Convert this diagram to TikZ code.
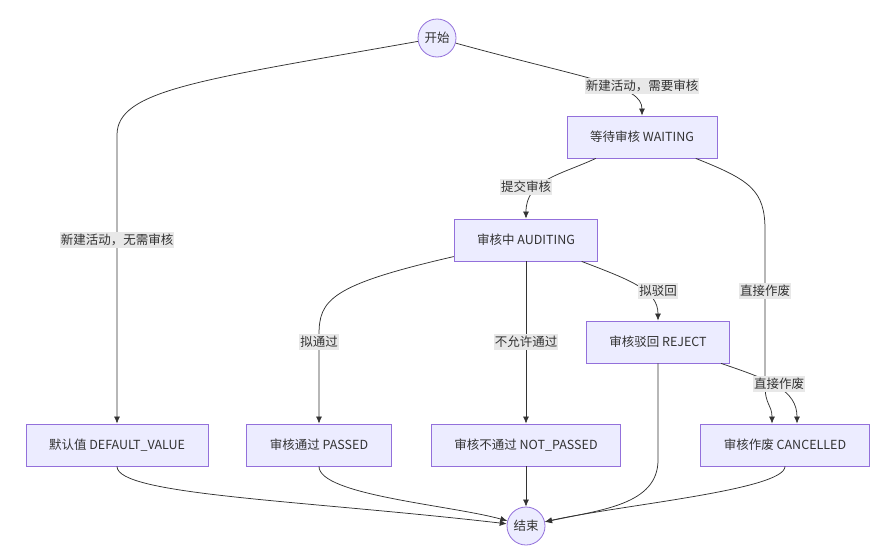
\documentclass[tikz,border=0pt]{standalone}
\usepackage{fontspec}
\setmainfont{Noto Sans CJK SC}
\usetikzlibrary{arrows.meta}
\definecolor{stfill}{HTML}{ECECFF}
\definecolor{stline}{HTML}{9370DB}
\definecolor{txt}{HTML}{333333}
\definecolor{lblbg}{HTML}{E8E8E8}
\begin{document}
\begin{tikzpicture}[x=1pt, y=-1pt,
	every node/.style={font=\fontsize{12.5}{14}\selectfont, text=txt},
	state/.style={draw=stline, fill=stfill, line width=0.8pt, minimum height=42pt, inner xsep=23pt},
	term/.style={circle, draw=stline, fill=stfill, line width=0.8pt, minimum size=38pt, inner sep=0pt},
	lbl/.style={fill=lblbg, inner xsep=1pt, inner ysep=2.5pt},
	edge/.style={draw=txt, line width=0.75pt, -{Latex[length=7pt,width=6pt]}}]
	\useasboundingbox (0,0) rectangle (888,554);
	% states
	\node[term] (start) at (437,38) {开始};
	\node[state] (wait) at (642,137) {等待审核 WAITING};
	\node[state] (audit) at (526,240) {审核中 AUDITING};
	\node[state] (reject) at (658,342) {审核驳回 REJECT};
	\node[state] (default) at (117,445) {默认值 DEFAULT\_VALUE};
	\node[state] (passed) at (319,445) {审核通过 PASSED};
	\node[state] (notpass) at (526,445) {审核不通过 NOT\_PASSED};
	\node[state] (cancel) at (785,445) {审核作废 CANCELLED};
	\node[term] (end) at (526,526) {结束};
	% transitions
	\draw[edge] (start) .. controls (590,80) and (642,85) .. (wait.north);
	\draw[edge] (start) .. controls (200,80) and (117,90) .. (117,135) -- (default.north);
	\draw[edge] (wait) .. controls (560,175) and (526,180) .. (audit.north);
	\draw[edge] (wait) .. controls (750,180) and (765,190) .. (765,230) -- (765,385) .. controls (765,405) and (772,405) .. ([xshift=-13pt]cancel.north);
	\draw[edge] (audit) .. controls (330,285) and (319,300) .. (319,335) -- (passed.north);
	\draw[edge] (audit) -- (notpass);
	\draw[edge] (audit) .. controls (630,280) and (658,290) .. (reject.north);
	\draw[edge] (reject) .. controls (770,380) and (797,390) .. ([xshift=12pt]cancel.north);
	\draw[edge] (reject.south) -- (658,460) .. controls (658,505) and (600,510) .. (end);
	\draw[edge] (default.south) .. controls (117,495) and (300,500) .. (end);
	\draw[edge] (passed.south) .. controls (319,495) and (450,505) .. (end);
	\draw[edge] (notpass) -- (end);
	\draw[edge] (cancel.south) .. controls (785,490) and (620,505) .. (end);
	% labels
	\node[lbl] at (642,86) {新建活动，需要审核};
	\node[lbl] at (117,240) {新建活动，无需审核};
	\node[lbl] at (526,187) {提交审核};
	\node[lbl] at (319,342) {拟通过};
	\node[lbl] at (526,342) {不允许通过};
	\node[lbl] at (658,291) {拟驳回};
	\node[lbl] at (765,291) {直接作废};
	\node[lbl] at (779,384) {直接作废};
\end{tikzpicture}
\end{document}
